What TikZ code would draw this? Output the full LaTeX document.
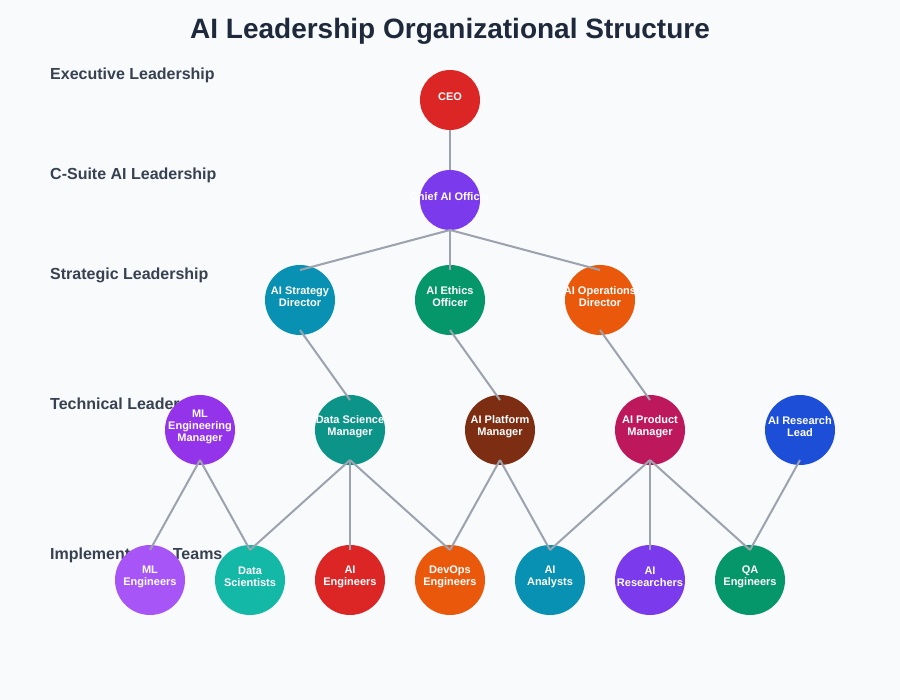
\documentclass[tikz,border=0pt]{standalone}
\usepackage{fontspec}
\setmainfont{Liberation Sans}
\usepackage{xcolor}

\definecolor{bgcol}{HTML}{F8FAFC}
\definecolor{titlecol}{HTML}{1E293B}
\definecolor{levelcol}{HTML}{374151}
\definecolor{linkcol}{HTML}{9CA3AF}
\definecolor{red}{HTML}{DC2626}
\definecolor{violet}{HTML}{7C3AED}
\definecolor{cyan}{HTML}{0891B2}
\definecolor{emerald}{HTML}{059669}
\definecolor{orange}{HTML}{EA580C}
\definecolor{purple}{HTML}{9333EA}
\definecolor{teal}{HTML}{0D9488}
\definecolor{brown}{HTML}{7C2D12}
\definecolor{pink}{HTML}{BE185D}
\definecolor{blue}{HTML}{1D4ED8}
\definecolor{lightpurple}{HTML}{A855F7}
\definecolor{lightteal}{HTML}{14B8A6}

\begin{document}
\begin{tikzpicture}[x=1pt,y=-1pt,
    member/.style={circle,minimum size=70pt,inner sep=0pt,fill=#1},
    head/.style={circle,minimum size=60pt,inner sep=0pt,fill=#1},
    txt/.style={text=white,font=\bfseries\fontsize{11}{12}\selectfont,align=center,yshift=3.5pt},
    level/.style={anchor=west,inner sep=0pt,text=levelcol,font=\bfseries\fontsize{16}{19}\selectfont},
    link/.style={draw=linkcol,line width=2pt}]
    \fill[bgcol] (0,0) rectangle (900,700);
    \useasboundingbox (0,0) rectangle (900,700);
    \node[text=titlecol,font=\bfseries\fontsize{28}{34}\selectfont] (title) at (450,31) {AI Leadership Organizational Structure};
    % levels
    \node[level] (lv1) at (50,75) {Executive Leadership};
    \node[level] (lv2) at (50,175) {C-Suite AI Leadership};
    \node[level] (lv3) at (50,275) {Strategic Leadership};
    \node[level] (lv4) at (50,405) {Technical Leadership};
    \node[level] (lv5) at (50,555) {Implementation Teams};
    % executive and c-suite
    \node[head=red,label={[txt]center:CEO}] (ceo) at (450,100) {};
    \node[head=violet,label={[txt]center:Chief AI Officer}] (caio) at (450,200) {};
    % strategic
    \node[member=cyan,label={[txt]center:{AI Strategy\\Director}}] (strategy) at (300,300) {};
    \node[member=emerald,label={[txt]center:{AI Ethics\\Officer}}] (ethics) at (450,300) {};
    \node[member=orange,label={[txt]center:{AI Operations\\Director}}] (operations) at (600,300) {};
    % technical
    \node[member=purple,label={[txt]center:{ML\\Engineering\\Manager}}] (mlmanager) at (200,430) {};
    \node[member=teal,label={[txt]center:{Data Science\\Manager}}] (dsmanager) at (350,430) {};
    \node[member=brown,label={[txt]center:{AI Platform\\Manager}}] (platform) at (500,430) {};
    \node[member=pink,label={[txt]center:{AI Product\\Manager}}] (product) at (650,430) {};
    \node[member=blue,label={[txt]center:{AI Research\\Lead}}] (research) at (800,430) {};
    % teams
    \node[member=lightpurple,label={[txt]center:{ML\\Engineers}}] (mlteam) at (150,580) {};
    \node[member=lightteal,label={[txt]center:{Data\\Scientists}}] (dsteam) at (250,580) {};
    \node[member=red,label={[txt]center:{AI\\Engineers}}] (aiteam) at (350,580) {};
    \node[member=orange,label={[txt]center:{DevOps\\Engineers}}] (devops) at (450,580) {};
    \node[member=cyan,label={[txt]center:{AI\\Analysts}}] (analysts) at (550,580) {};
    \node[member=violet,label={[txt]center:{AI\\Researchers}}] (researchers) at (650,580) {};
    \node[member=emerald,label={[txt]center:{QA\\Engineers}}] (qa) at (750,580) {};
    % reporting lines
    \draw[link] ([yshift=-30pt]ceo.center) -- ([yshift=30pt]caio.center);
    \draw[link] ([yshift=-30pt]caio.center) -- ([yshift=30pt]strategy.center);
    \draw[link] ([yshift=-30pt]caio.center) -- ([yshift=30pt]ethics.center);
    \draw[link] ([yshift=-30pt]caio.center) -- ([yshift=30pt]operations.center);
    \draw[link] ([yshift=-30pt]strategy.center) -- ([yshift=30pt]dsmanager.center);
    \draw[link] ([yshift=-30pt]ethics.center) -- ([yshift=30pt]platform.center);
    \draw[link] ([yshift=-30pt]operations.center) -- ([yshift=30pt]product.center);
    \draw[link] ([yshift=-30pt]mlmanager.center) -- ([yshift=30pt]mlteam.center);
    \draw[link] ([yshift=-30pt]mlmanager.center) -- ([yshift=30pt]dsteam.center);
    \draw[link] ([yshift=-30pt]dsmanager.center) -- ([yshift=30pt]dsteam.center);
    \draw[link] ([yshift=-30pt]dsmanager.center) -- ([yshift=30pt]aiteam.center);
    \draw[link] ([yshift=-30pt]dsmanager.center) -- ([yshift=30pt]devops.center);
    \draw[link] ([yshift=-30pt]platform.center) -- ([yshift=30pt]devops.center);
    \draw[link] ([yshift=-30pt]platform.center) -- ([yshift=30pt]analysts.center);
    \draw[link] ([yshift=-30pt]product.center) -- ([yshift=30pt]analysts.center);
    \draw[link] ([yshift=-30pt]product.center) -- ([yshift=30pt]researchers.center);
    \draw[link] ([yshift=-30pt]product.center) -- ([yshift=30pt]qa.center);
    \draw[link] ([yshift=-30pt]research.center) -- ([yshift=30pt]qa.center);
\end{tikzpicture}
\end{document}
